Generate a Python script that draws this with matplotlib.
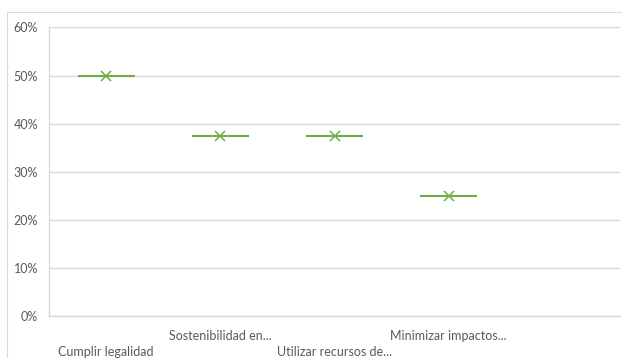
import matplotlib
matplotlib.use("Agg")
import matplotlib.pyplot as plt
from matplotlib.lines import Line2D
from matplotlib.ticker import FuncFormatter

categories = ["Cumplir legalidad", "Sostenibilidad en...", "Utilizar recursos de...", "Minimizar impactos...", ""]
values = [0.50, 0.375, 0.375, 0.25, None]
yticks = [0, 0.1, 0.2, 0.3, 0.4, 0.5, 0.6]

green = "#70AD47"
grid = "#D9D9D9"
textc = "#595959"

plt.rcParams['font.family'] = ['Lato', 'DejaVu Sans']

W, H = 622, 358
fig = plt.figure(figsize=(W / 100, H / 100), dpi=100)
by = 1 - 11.5 / H
bx = 7.5 / W
fig.lines.append(Line2D([bx, 1.0], [by, by], transform=fig.transFigure, color=grid, linewidth=0.8))
fig.lines.append(Line2D([bx, bx], [0, by], transform=fig.transFigure, color=grid, linewidth=0.8))

left, right, top, bottom = 49, 620, 27.5, 316
ax = fig.add_axes([left / W, 1 - bottom / H, (right - left) / W, (bottom - top) / H])

n = len(categories)
ax.set_xlim(-0.5, n - 0.5)
ax.set_ylim(0, 0.6)

xs = [i for i, v in enumerate(values) if v is not None]
ys = [v for v in values if v is not None]
ax.hlines(ys, [x - 0.25 for x in xs], [x + 0.25 for x in xs], color=green, linewidth=1.5, zorder=3)
ax.plot(xs, ys, linestyle="none", marker="x", markersize=6.5, markeredgewidth=1.1, color=green, zorder=4)

ax.set_yticks(yticks)
ax.yaxis.set_major_formatter(FuncFormatter(lambda v, p: f"{round(v * 100)}%"))
ax.grid(axis="y", color=grid, linewidth=1.0)
ax.set_axisbelow(True)

labels = [("\n" + c) if i % 2 == 0 else c for i, c in enumerate(categories)]
ax.set_xticks(range(n))
ax.set_xticklabels(labels, linespacing=1.4)

ax.tick_params(axis="both", length=0, colors=textc, labelsize=9)
ax.tick_params(axis="x", pad=10)
ax.tick_params(axis="y", pad=8)

for s in ["top", "right"]:
    ax.spines[s].set_visible(False)
ax.spines["left"].set_color(grid)
ax.spines["bottom"].set_color(grid)
ax.spines["left"].set_linewidth(1.0)
ax.spines["bottom"].set_linewidth(1.0)

fig.savefig("out.png", dpi=100)
